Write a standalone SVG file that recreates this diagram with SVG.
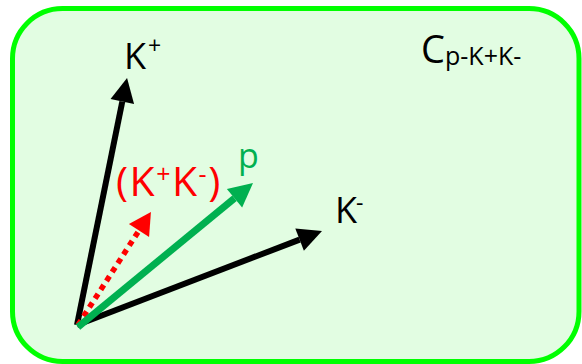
<svg xmlns="http://www.w3.org/2000/svg" width="582" height="364" viewBox="0 0 582 364">
<style>
text{font-family:"Open Sans","Noto Sans","DejaVu Sans",sans-serif;}
.lbl{font-size:36px;fill:#000;}
.sup{font-size:23px;}
.red{font-size:41px;fill:#ff0000;letter-spacing:1.5px;}
.rsup{font-size:25px;}
</style>
<defs>
<marker id="hk" markerUnits="userSpaceOnUse" markerWidth="30" markerHeight="30" refX="0" refY="12" orient="auto" overflow="visible"><path d="M0,0 L24,12 L0,24 z" fill="#000"/></marker>
<marker id="hg" markerUnits="userSpaceOnUse" markerWidth="30" markerHeight="30" refX="0" refY="12" orient="auto" overflow="visible"><path d="M0,0 L24,12 L0,24 z" fill="#00b050"/></marker>
<marker id="hr" markerUnits="userSpaceOnUse" markerWidth="30" markerHeight="30" refX="0" refY="12" orient="auto" overflow="visible"><path d="M0,0 L22,12 L0,24 z" fill="#ff0000"/></marker>
</defs>
<g id="frame">
<rect x="12.5" y="8.5" width="566.5" height="353" rx="50" ry="50" fill="#e2fde2" stroke="#00ff00" stroke-width="5"/>
<text x="421" y="63" style="font-size:38px" fill="#000">C<tspan x="445" y="65" style="font-size:25px">p-K+K-</tspan></text>
</g>
<g id="connectors" fill="none">
<line x1="77" y1="325" x2="122.3" y2="101.5" stroke="#000" stroke-width="6" marker-end="url(#hk)"/>
<line x1="77" y1="325" x2="299.6" y2="239.6" stroke="#000" stroke-width="6" marker-end="url(#hk)"/>
<line x1="78" y1="325" x2="139" y2="230.5" stroke="#ff0000" stroke-width="5.5" stroke-dasharray="5.5 5" marker-end="url(#hr)"/>
<line x1="78" y1="327" x2="234.5" y2="198.2" stroke="#00b050" stroke-width="7" marker-end="url(#hg)"/>
</g>
<g id="kplus"><text class="lbl" x="124" y="69">K<tspan class="sup" x="148" y="54">+</tspan></text></g>
<g id="kminus"><text class="lbl" x="335" y="223">K<tspan class="sup" x="356" y="211">-</tspan></text></g>
<g id="p"><text x="238" y="168" style="font-size:34px" fill="#00b050">p</text></g>
<g id="kk"><text class="red" x="116" y="196">(K<tspan class="rsup" dy="-13">+</tspan><tspan dy="13">K</tspan><tspan class="rsup" dy="-13">-</tspan><tspan dy="13">)</tspan></text></g>
</svg>
